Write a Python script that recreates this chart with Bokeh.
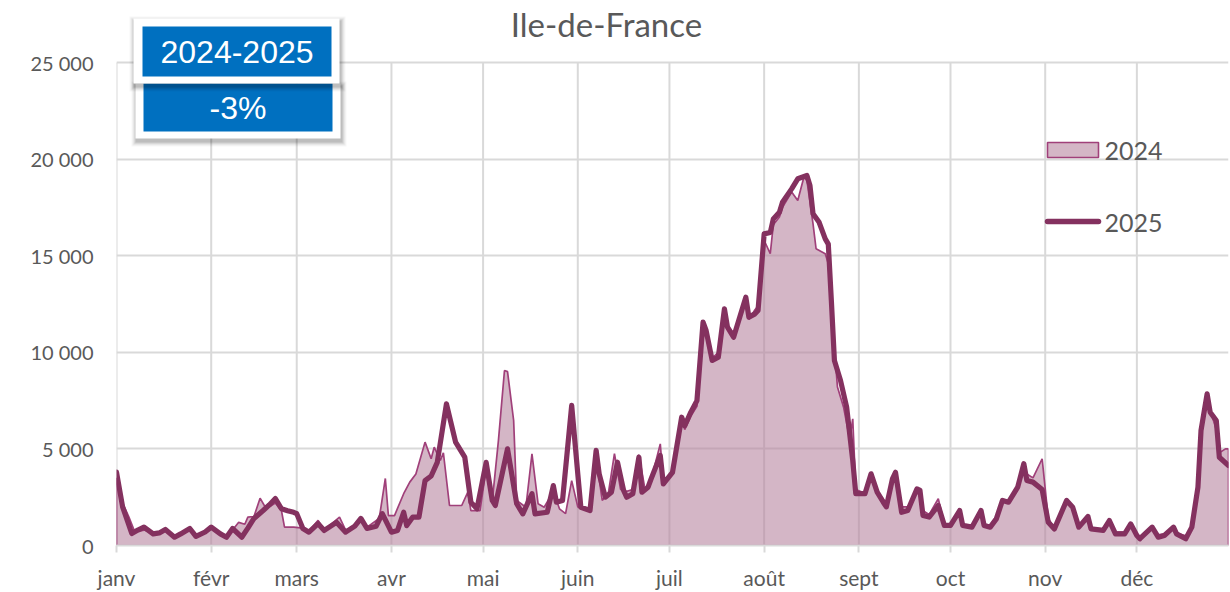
from bokeh.plotting import figure
from bokeh.models import Range1d, FixedTicker, Label
from bokeh.embed import file_html
from bokeh.resources import INLINE

# ---------------- data ----------------
month_days = [0, 31, 59, 90, 120, 151, 181, 212, 243, 273, 304, 334]
month_labels = ["janv", "févr", "mars", "avr", "mai", "juin", "juil", "août", "sept", "oct", "nov", "déc"]
y_ticks = [0, 5000, 10000, 15000, 20000, 25000]
y_tick_labels = ["0", "5 000", "10 000", "15 000", "20 000", "25 000"]

title_text = "Ile-de-France"
badge_period = "2024-2025"
badge_change = "-3%"
series_names = ["2024", "2025"]

days_2024 = [0, 2, 4, 6, 9, 12, 14, 16, 19, 21, 24, 26, 29, 31, 34, 36, 38, 40, 42, 43, 45, 47, 49, 52, 54, 55,
             58, 61, 63, 66, 68, 73, 75, 78, 80, 82, 86, 88, 89, 91, 94, 96, 98, 101, 103, 104, 106, 107, 109,
             113, 115, 116, 119, 121, 123, 125, 127, 128, 130, 131, 134, 136, 138, 140, 143, 145, 147, 149, 151,
             153, 155, 157, 159, 161, 163, 165, 167, 169, 171, 173, 175, 178, 179, 182, 185, 186, 188, 190, 192,
             193, 195, 197, 199, 200, 202, 206, 207, 209, 210, 212, 214, 215, 217, 218, 221, 223, 225, 226, 228,
             229, 232, 233, 234, 236, 238, 240, 241, 242, 245, 247, 249, 251, 252, 254, 255, 257, 259, 262, 263,
             264, 266, 269, 271, 273, 276, 277, 280, 283, 284, 286, 288, 290, 292, 295, 297, 298, 300, 303, 305,
             307, 311, 313, 315, 318, 319, 323, 325, 327, 330, 332, 334, 335, 339, 341, 343, 346, 347, 350, 352,
             354, 355, 357, 358, 360, 361, 363, 364]
ile_2024 = [3500, 2200, 1500, 700, 800, 650, 700, 800, 500, 600, 800, 500, 700, 900, 600, 450, 800, 1200, 1100,
            1470, 1500, 2450, 1900, 2200, 1800, 950, 950, 900, 750, 1300, 800, 1470, 800, 1000, 1300, 950, 1400,
            3470, 1550, 1550, 2680, 3280, 3700, 5350, 4490, 5090, 4400, 4800, 2070, 2070, 2760, 1810, 1800, 4000,
            2300, 5400, 9060, 9000, 6470, 2330, 1980, 4740, 2160, 1980, 2800, 1900, 1650, 3360, 2000, 1900, 1800,
            4500, 2330, 2700, 4750, 2900, 2800, 2900, 4700, 2900, 3400, 5260, 3300, 3700, 6500, 6000, 6700, 7200,
            11400, 11000, 9700, 10000, 12100, 11400, 11000, 12600, 11700, 12200, 12400, 15800, 15100, 16600,
            17000, 17500, 18300, 17860, 19060, 18900, 16650, 15360, 15100, 14600, 12200, 8200, 7160, 5500, 6560,
            2900, 2700, 3600, 2800, 2400, 2100, 3300, 3700, 2000, 2000, 2800, 2500, 1800, 1600, 2420, 1100, 1100,
            1900, 1100, 1000, 1900, 1100, 1050, 1500, 2400, 2300, 3000, 3900, 3700, 3500, 4490, 1400, 900, 2300,
            2000, 1000, 1500, 900, 850, 1200, 700, 700, 1000, 600, 450, 900, 550, 600, 900, 650, 500, 1000, 2800,
            5600, 7600, 7000, 6000, 4800, 5000, 5000]

days_2025 = [0, 2, 5, 7, 9, 12, 14, 16, 19, 21, 24, 26, 29, 31, 34, 36, 38, 41, 43, 45, 48, 50, 52, 54, 56, 58,
             59, 61, 63, 66, 68, 72, 75, 78, 80, 82, 85, 87, 90, 92, 94, 95, 97, 99, 101, 103, 105, 108, 111, 114,
             116, 118, 121, 123, 124, 128, 131, 133, 136, 137, 141, 143, 144, 146, 149, 151, 152, 155, 157, 158,
             160, 162, 164, 166, 167, 169, 171, 172, 174, 175, 178, 179, 182, 185, 186, 188, 190, 192, 193, 195,
             197, 199, 200, 202, 206, 207, 209, 210, 212, 214, 215, 217, 218, 221, 223, 226, 227, 228, 230, 232,
             233, 234, 235, 237, 239, 241, 242, 245, 247, 249, 251, 252, 254, 255, 257, 259, 262, 263, 264, 266,
             269, 271, 273, 276, 277, 280, 283, 284, 286, 288, 290, 292, 295, 297, 298, 300, 303, 305, 307, 311,
             313, 315, 318, 319, 323, 325, 327, 330, 332, 334, 335, 339, 341, 343, 346, 347, 350, 352, 354, 355,
             357, 358, 360, 361, 364]
ile_2025 = [3800, 2000, 620, 800, 950, 600, 650, 830, 430, 600, 880, 470, 700, 950, 600, 430, 880, 430, 900, 1400,
            1810, 2100, 2430, 1900, 1800, 1720, 1650, 880, 690, 1130, 780, 1200, 690, 1000, 1400, 880, 1000, 1650,
            690, 780, 1720, 1030, 1470, 1470, 3360, 3600, 4300, 7330, 5350, 4570, 2240, 1900, 4300, 2330, 2070,
            5000, 2160, 1640, 2680, 1640, 1720, 3100, 2240, 2330, 7250, 3700, 1980, 1810, 4920, 3710, 2500, 2760,
            4310, 2850, 2500, 2680, 4570, 2760, 3020, 3450, 4660, 3190, 3790, 6640, 6200, 6900, 7500, 11560,
            11130, 9580, 9750, 12250, 11300, 10780, 12850, 11820, 11990, 12160, 16130, 16200, 16900, 17250,
            17770, 18460, 18980, 19150, 18630, 17170, 16730, 15870, 15600, 12680, 9580, 8540, 7160, 4400, 2680,
            2680, 3710, 2760, 2240, 2000, 3450, 3790, 1720, 1810, 2930, 2850, 1550, 1470, 2070, 1040, 1040, 1810,
            1040, 950, 1810, 1040, 950, 1380, 2330, 2240, 3020, 4230, 3360, 3280, 2900, 1200, 860, 2330, 1980,
            950, 1500, 860, 780, 1290, 600, 600, 1120, 520, 350, 950, 430, 520, 950, 600, 350, 950, 3020, 5950,
            7850, 6900, 6470, 4570, 4140]

# ---------------- layout helpers (picture pixels -> data) ----------------
W, H = 1230, 592
X_END = 364
FRAME_L, FRAME_R = 116, 1228
Y0_PX, Y25_PX, TOP_PX = 545, 62, 0
Y_TOP = 25000 * (Y0_PX - TOP_PX) / (Y0_PX - Y25_PX)
PX_PER_DAY = (FRAME_R - FRAME_L) / X_END
PX_PER_UNIT = (Y0_PX - Y25_PX) / 25000


def dx(px):
    return (px - FRAME_L) / PX_PER_DAY


def dy(py):
    return (Y0_PX - py) / PX_PER_UNIT


GRID = "#d9d9d9"
TXT = "#595959"
FILL24 = "#b5819d"
LINE24 = "#a0407a"
LINE25 = "#84315f"
BLUE = "#0070c0"

p = figure(width=W, height=H, x_range=Range1d(0, X_END), y_range=Range1d(0, Y_TOP),
           output_backend="svg", toolbar_location=None,
           min_border_left=FRAME_L, min_border_right=W - FRAME_R, min_border_top=TOP_PX,
           min_border_bottom=H - Y0_PX)
p.outline_line_color = None
p.background_fill_color = "white"
p.border_fill_color = "white"

# grids
p.xgrid.visible = False
p.ygrid.ticker = FixedTicker(ticks=y_ticks)
p.ygrid.grid_line_color = GRID
p.ygrid.grid_line_width = 2
p.segment(x0=month_days, y0=[0] * len(month_days), x1=month_days, y1=[y_ticks[-1]] * len(month_days),
          line_color=GRID, line_width=2, level="underlay")

# axes
p.xaxis.ticker = FixedTicker(ticks=month_days)
p.xaxis.major_label_overrides = {d: m for d, m in zip(month_days, month_labels)}
p.xaxis.axis_line_color = GRID
p.xaxis.axis_line_width = 2
p.xaxis.major_tick_line_color = GRID
p.xaxis.major_tick_line_width = 2
p.xaxis.major_tick_out = 7
p.xaxis.major_tick_in = 0
p.xaxis.minor_tick_line_color = None
p.xaxis.major_label_standoff = 12
p.xaxis.major_label_text_font = "Lato"
p.xaxis.major_label_text_font_size = "21px"
p.xaxis.major_label_text_color = TXT

p.yaxis.ticker = FixedTicker(ticks=y_ticks)
p.yaxis.major_label_overrides = {t: l for t, l in zip(y_ticks, y_tick_labels)}
p.yaxis.axis_line_color = None
p.yaxis.major_tick_line_color = None
p.yaxis.minor_tick_line_color = None
p.yaxis.major_tick_out = 0
p.yaxis.major_tick_in = 0
p.yaxis.major_label_standoff = 23
p.yaxis.major_label_text_font = "Lato"
p.yaxis.major_label_text_font_size = "20px"
p.yaxis.major_label_text_color = TXT

# series 2024: area
xs24 = [days_2024[0]] + days_2024 + [days_2024[-1]]
ys24 = [0] + ile_2024 + [0]
p.patch(xs24, ys24, fill_color=FILL24, fill_alpha=0.58, line_color=LINE24, line_width=1.7)

# series 2025: thick line
p.line(days_2025, ile_2025, line_color=LINE25, line_width=5.2, line_join="round", line_cap="round")

# title
p.add_layout(Label(x=dx(606), y=dy(23), text=title_text, text_font="Lato", text_font_size="33px",
                   text_color=TXT, text_align="center", text_baseline="middle"))


# badges (cards with shadow)
def card(l, r, t, b):
    for k, a in [(5, 0.03), (4, 0.04), (3, 0.05), (2, 0.07), (1, 0.09)]:
        p.quad(left=dx(l - k + 1), right=dx(r + k + 1), top=dy(t - k + 3), bottom=dy(b + k + 3),
               fill_color="black", fill_alpha=a, line_color=None)
    p.quad(left=dx(l), right=dx(r), top=dy(t), bottom=dy(b), fill_color="white", line_color=None)


card(135, 340, 83, 138)
p.quad(left=dx(143), right=dx(332), top=dy(83), bottom=dy(131), fill_color=BLUE, line_color=None)
card(133, 339, 18, 83)
p.quad(left=dx(142), right=dx(331), top=dy(26), bottom=dy(76), fill_color=BLUE, line_color=None)

p.add_layout(Label(x=dx(236.5), y=dy(51), text=badge_period, text_font="Liberation Sans",
                   text_font_size="32px", text_color="white", text_align="center", text_baseline="middle"))
p.add_layout(Label(x=dx(237.5), y=dy(107), text=badge_change, text_font="Liberation Sans",
                   text_font_size="32px", text_color="white", text_align="center", text_baseline="middle"))

# legend
p.quad(left=dx(1047), right=dx(1098), top=dy(142), bottom=dy(157), fill_color=FILL24, fill_alpha=0.58,
       line_color=LINE24, line_width=1.6)
p.segment(x0=dx(1047), y0=dy(221), x1=dx(1098), y1=dy(221), line_color=LINE25, line_width=5.5,
          line_cap="round")
p.add_layout(Label(x=dx(1104), y=dy(150), text=series_names[0], text_font="Lato", text_font_size="25px",
                   text_color=TXT, text_align="left", text_baseline="middle"))
p.add_layout(Label(x=dx(1104), y=dy(222), text=series_names[1], text_font="Lato", text_font_size="25px",
                   text_color=TXT, text_align="left", text_baseline="middle"))

open("out.html", "w").write(file_html(p, INLINE))
